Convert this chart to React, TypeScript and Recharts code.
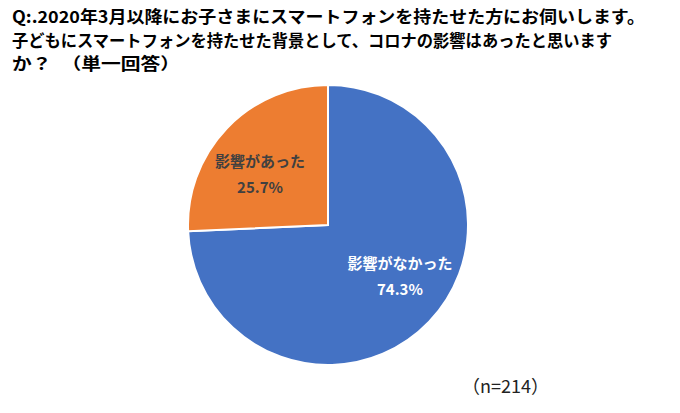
import { PieChart, Pie, Cell } from "recharts"

const titleLines = [
  "Q:.2020年3月以降にお子さまにスマートフォンを持たせた方にお伺いします。",
  "子どもにスマートフォンを持たせた背景として、コロナの影響はあったと思います",
  "か？　（単一回答）",
]
// widths the title lines take in the reference (Meiryo UI is narrower than Noto)
const titleWidths = [633, 600, 168]
const categories = ["影響がなかった", "影響があった"]
const values = [74.3, 25.7]
const colors = ["#4472C4", "#ED7D31"]
const labelColors = ["#FFFFFF", "#404040"]
const note = "（n=214）"

const data = categories.map((name, i) => ({ name, value: values[i] }))

const RAD = Math.PI / 180
const FONT = "'Noto Sans CJK JP', 'Noto Sans', sans-serif"

// Excel nudges inside labels a bit toward the horizontal axis
const renderLabel = (props: any) => {
  const { cx, cy, midAngle, outerRadius, index, name, value } = props
  const toward = Math.abs(midAngle) < 90 ? 0 : 180 * Math.sign(midAngle)
  const angle = midAngle + (toward - midAngle) * 0.17
  const r = outerRadius * 0.62
  const x = cx + r * Math.cos(-angle * RAD) + 2
  const y = cy + r * Math.sin(-angle * RAD)
  return (
    <text
      x={x}
      y={y}
      textAnchor="middle"
      fill={labelColors[index]}
      fontFamily={FONT}
      fontWeight="bold"
      fontSize={15}
    >
      <tspan x={x} dy={-7}>{name}</tspan>
      <tspan x={x} dy={26}>{value.toFixed(1)}%</tspan>
    </text>
  )
}

export default function App() {
  return (
    <div style={{ position: "absolute", left: 0, top: 0, width: 680, height: 413, background: "#fff" }}>
      <svg width={680} height={80} style={{ position: "absolute", left: 0, top: 0 }}>
        {titleLines.map((t, i) => (
          <text
            key={i}
            x={12}
            y={23 + i * 23.5}
            fontFamily={FONT}
            fontWeight="bold"
            fontSize={16.5}
            fill="#000"
            textLength={titleWidths[i]}
            lengthAdjust="spacingAndGlyphs"
          >
            {t}
          </text>
        ))}
      </svg>
      <PieChart width={680} height={413} style={{ position: "absolute", left: 0, top: 0 }}>
        <Pie
          data={data}
          dataKey="value"
          nameKey="name"
          cx={323}
          cy={220}
          outerRadius={140}
          startAngle={90}
          endAngle={-270}
          stroke="#fff"
          strokeWidth={2}
          labelLine={false}
          label={renderLabel}
          isAnimationActive={false}
        >
          {data.map((d, i) => (
            <Cell key={d.name} fill={colors[i]} />
          ))}
        </Pie>
      </PieChart>
      <div style={{ position: "absolute", left: 462, top: 372, fontFamily: FONT, fontSize: 18, color: "#222", whiteSpace: "nowrap" }}>
        {note}
      </div>
    </div>
  )
}
